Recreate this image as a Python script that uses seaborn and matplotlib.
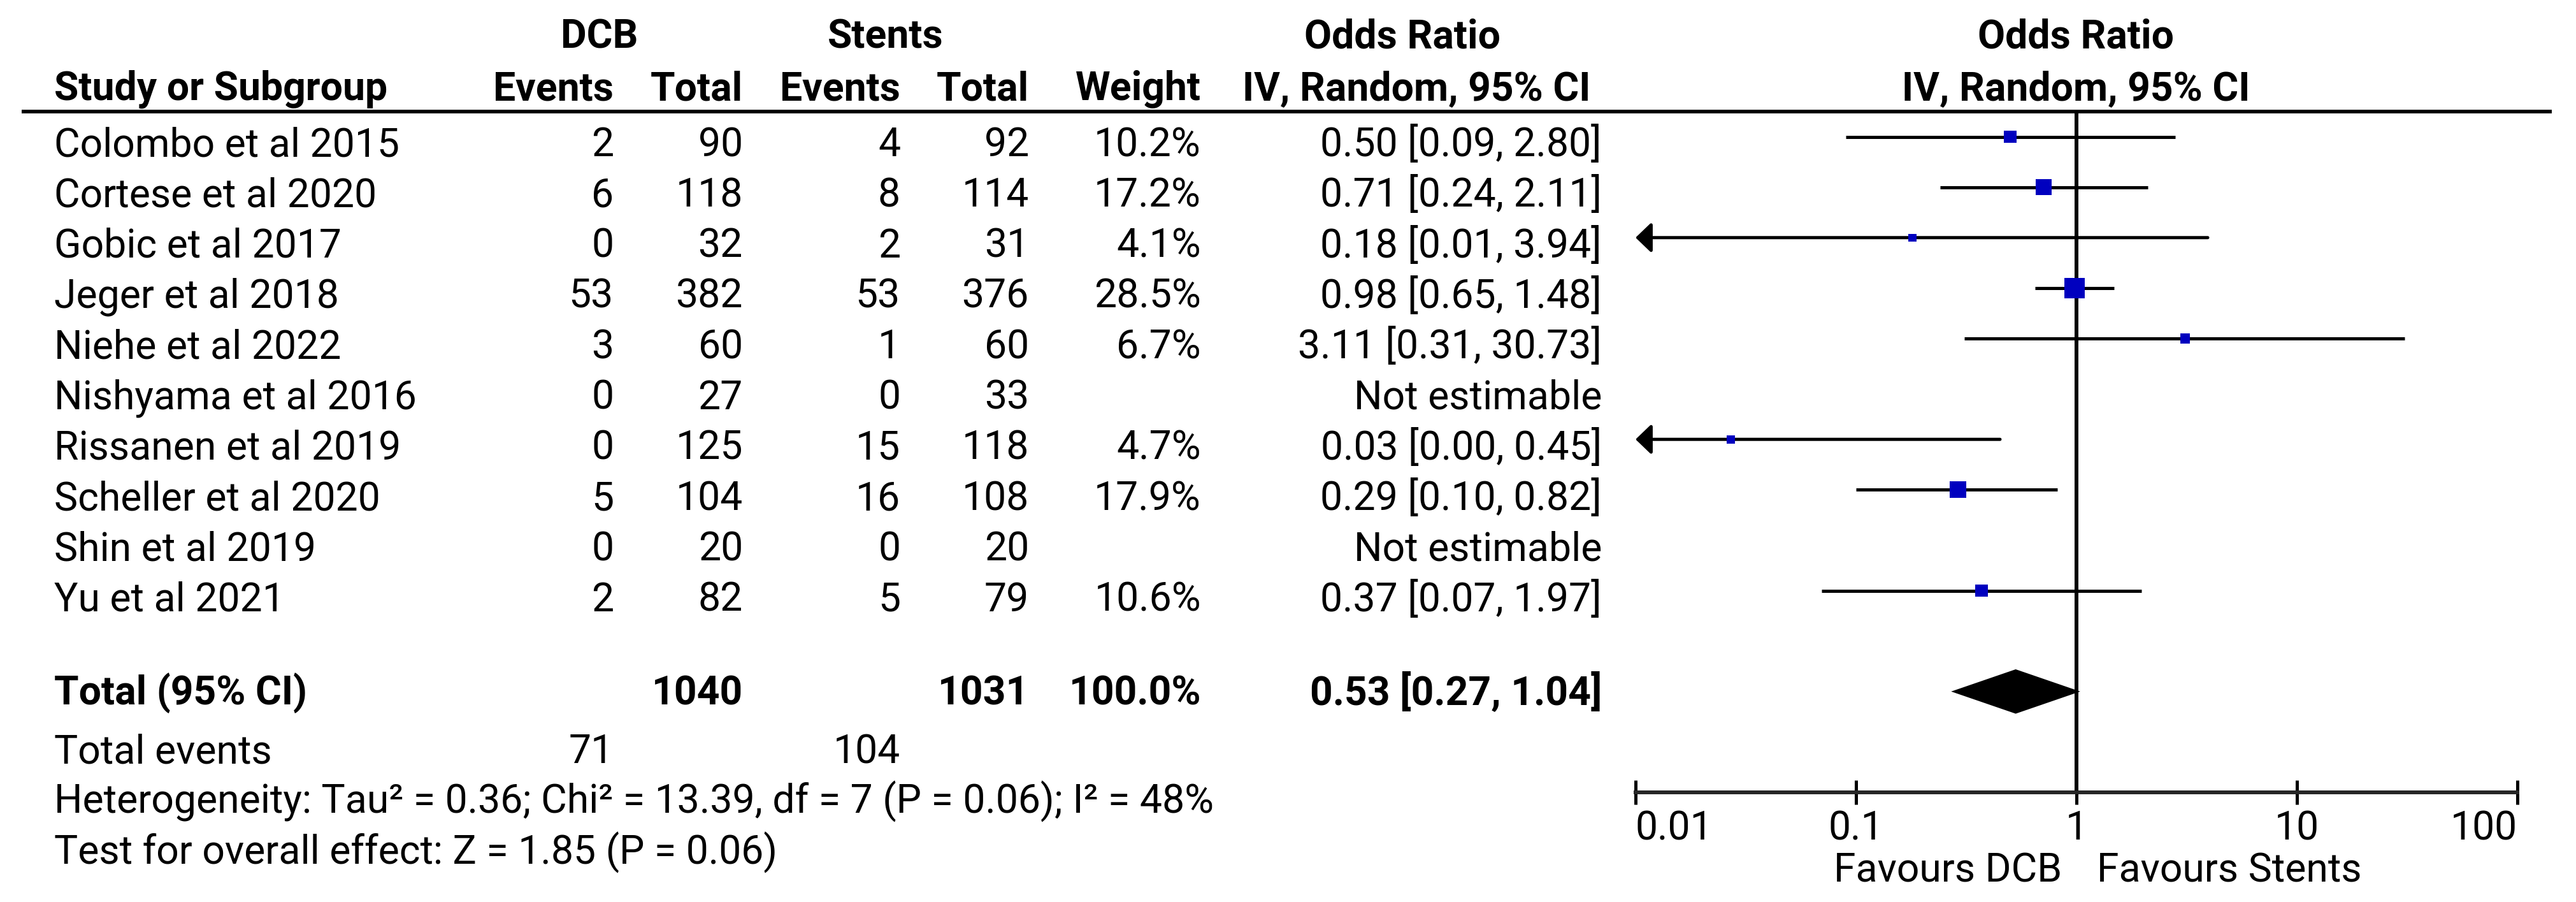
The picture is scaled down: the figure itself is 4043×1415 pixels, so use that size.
import numpy as np
import pandas as pd
import matplotlib
matplotlib.use('Agg')
import matplotlib.pyplot as plt
import seaborn as sns

# study level data
studies = ['Colombo et al 2015', 'Cortese et al 2020', 'Gobic et al 2017', 'Jeger et al 2018',
           'Niehe et al 2022', 'Nishyama et al 2016', 'Rissanen et al 2019', 'Scheller et al 2020',
           'Shin et al 2019', 'Yu et al 2021']
dcb_events = [2, 6, 0, 53, 3, 0, 0, 5, 0, 2]
dcb_total = [90, 118, 32, 382, 60, 27, 125, 104, 20, 82]
stent_events = [4, 8, 2, 53, 1, 0, 15, 16, 0, 5]
stent_total = [92, 114, 31, 376, 60, 33, 118, 108, 20, 79]
weights = [10.2, 17.2, 4.1, 28.5, 6.7, np.nan, 4.7, 17.9, np.nan, 10.6]
odds_ratio = [0.50, 0.71, 0.18, 0.98, 3.11, np.nan, 0.027, 0.29, np.nan, 0.37]
ci_low = [0.09, 0.24, 0.0085, 0.65, 0.31, np.nan, 0.0016, 0.10, np.nan, 0.07]
ci_high = [2.80, 2.11, 3.94, 1.48, 30.73, np.nan, 0.45, 0.82, np.nan, 1.97]

# pooled estimate
pooled_or = 0.53
pooled_low = 0.27
pooled_high = 1.04
total_weight = 100.0

heterogeneity = 'Heterogeneity: Tau\u00b2 = 0.36; Chi\u00b2 = 13.39, df = 7 (P = 0.06); I\u00b2 = 48%'
overall_test = 'Test for overall effect: Z = 1.85 (P = 0.06)'

tick_vals = [0.01, 0.1, 1, 10, 100]
tick_labels = ['0.01', '0.1', '1', '10', '100']

df = pd.DataFrame({'study': studies, 'dcb_e': dcb_events, 'dcb_n': dcb_total,
                   'st_e': stent_events, 'st_n': stent_total, 'weight': weights,
                   'or': odds_ratio, 'lo': ci_low, 'hi': ci_high})
df['row'] = np.arange(len(df))
total_row = len(df) + 1

sns.set_style('white')
plt.rcParams['font.family'] = ['Roboto', 'DejaVu Sans']

W, H = 4043, 1415
fig = plt.figure(figsize=(W / 100, H / 100), dpi=100)

# table part, laid out in pixel units
tab = fig.add_axes([0, 0, 1, 1])
tab.set_xlim(0, W)
tab.set_ylim(H, 0)
tab.axis('off')

FS = 45
x_study = 85
x_dcb_e, x_dcb_n, x_st_e, x_st_n, x_w, x_or = 963, 1166, 1413, 1615, 1885, 2514

def txt(x, y, s, ha='right', bold=False):
    tab.text(x, y, s, ha=ha, va='baseline', fontsize=FS,
             fontweight='bold' if bold else 'normal', color='black')

# headers
txt(941, 76, 'DCB', ha='center', bold=True)
txt(1390, 76, 'Stents', ha='center', bold=True)
txt(2201, 76, 'Odds Ratio', ha='center', bold=True)
txt(3258, 76, 'Odds Ratio', ha='center', bold=True)
txt(x_study, 157, 'Study or Subgroup', ha='left', bold=True)
txt(x_dcb_e, 157, 'Events', bold=True)
txt(x_dcb_n, 157, 'Total', bold=True)
txt(x_st_e, 157, 'Events', bold=True)
txt(x_st_n, 157, 'Total', bold=True)
txt(x_w, 157, 'Weight', bold=True)
txt(2223, 157, 'IV, Random, 95% CI', ha='center', bold=True)
txt(3258, 157, 'IV, Random, 95% CI', ha='center', bold=True)
tab.plot([34, 4005], [175, 175], color='black', lw=4.1, solid_capstyle='butt')

# study rows
for _, r in df.iterrows():
    yb = 245 + 79.3 * r['row']
    txt(x_study, yb, r['study'], ha='left')
    txt(x_dcb_e, yb, f"{r['dcb_e']}")
    txt(x_dcb_n, yb, f"{r['dcb_n']}")
    txt(x_st_e, yb, f"{r['st_e']}")
    txt(x_st_n, yb, f"{r['st_n']}")
    if np.isnan(r['or']):
        txt(x_or, yb, 'Not estimable')
    else:
        txt(x_w, yb, f"{r['weight']:.1f}%")
        txt(x_or, yb, f"{r['or']:.2f} [{r['lo']:.2f}, {r['hi']:.2f}]")

# total rows
txt(x_study, 1105, 'Total (95% CI)', ha='left', bold=True)
txt(x_dcb_n, 1105, f"{df['dcb_n'].sum()}", bold=True)
txt(x_st_n, 1105, f"{df['st_n'].sum()}", bold=True)
txt(x_w, 1105, f"{total_weight:.1f}%", bold=True)
txt(x_or, 1105, f"{pooled_or:.2f} [{pooled_low:.2f}, {pooled_high:.2f}]", bold=True)
txt(x_study, 1197, 'Total events', ha='left')
txt(x_dcb_e, 1197, f"{df['dcb_e'].sum()}")
txt(x_st_e, 1197, f"{df['st_e'].sum()}")
txt(x_study, 1275, heterogeneity, ha='left')
txt(x_study, 1355, overall_test, ha='left')
txt(3236, 1383, 'Favours DCB')
txt(3291, 1383, 'Favours Stents', ha='left')

# forest part
ax = fig.add_axes([2567 / W, (H - 1243) / H, 1384 / W, 1068 / H])
ax.patch.set_alpha(0)
ax.set_xscale('log')
ax.set_xlim(tick_vals[0], tick_vals[-1])
ax.set_ylim(total_row + 2, -0.5)
for s in ['top', 'left', 'right']:
    ax.spines[s].set_visible(False)
ax.spines['bottom'].set_linewidth(4.3)
ax.set_yticks([])

ax.axvline(1, color='black', lw=4.3, zorder=1)

est = df.dropna(subset=['or'])
inside = est[est['lo'] >= tick_vals[0]]
ax.hlines(inside['row'], inside['lo'], inside['hi'], color='black', lw=3.6, zorder=2)
for _, r in est[est['lo'] < tick_vals[0]].iterrows():
    ax.annotate('', xy=(tick_vals[0], r['row']), xytext=(r['hi'], r['row']),
                arrowprops=dict(arrowstyle='-|>,head_length=0.75,head_width=0.72',
                                mutation_scale=20, lw=3.6, color='black',
                                shrinkA=0, shrinkB=0), zorder=2)

wmax = est['weight'].max()
sns.scatterplot(data=est, x='or', y='row', size='weight', sizes=(0, 19.3 * wmax),
                size_norm=(0, wmax), marker='s', color='#0000BF', linewidth=0,
                legend=False, ax=ax, zorder=3)

ax.fill([pooled_low, pooled_or, pooled_high, pooled_or],
        [total_row, total_row - 0.44, total_row, total_row + 0.44],
        color='black', lw=0, zorder=3)

ax.set_xlabel('')
ax.set_ylabel('')
ax.set_xlim(tick_vals[0], tick_vals[-1])
ax.set_ylim(total_row + 2, -0.5)
ax.set_xticks(tick_vals)
ax.set_xticklabels(tick_labels, fontsize=FS)
ax.xaxis.set_minor_locator(matplotlib.ticker.NullLocator())
ax.tick_params(axis='x', which='major', bottom=True, direction='inout', length=27,
               width=3.6, pad=6, color='black', labelcolor='black')
lbls = ax.get_xticklabels()
lbls[0].set_ha('left')
lbls[-1].set_ha('right')

fig.savefig('out.png', dpi=100)
